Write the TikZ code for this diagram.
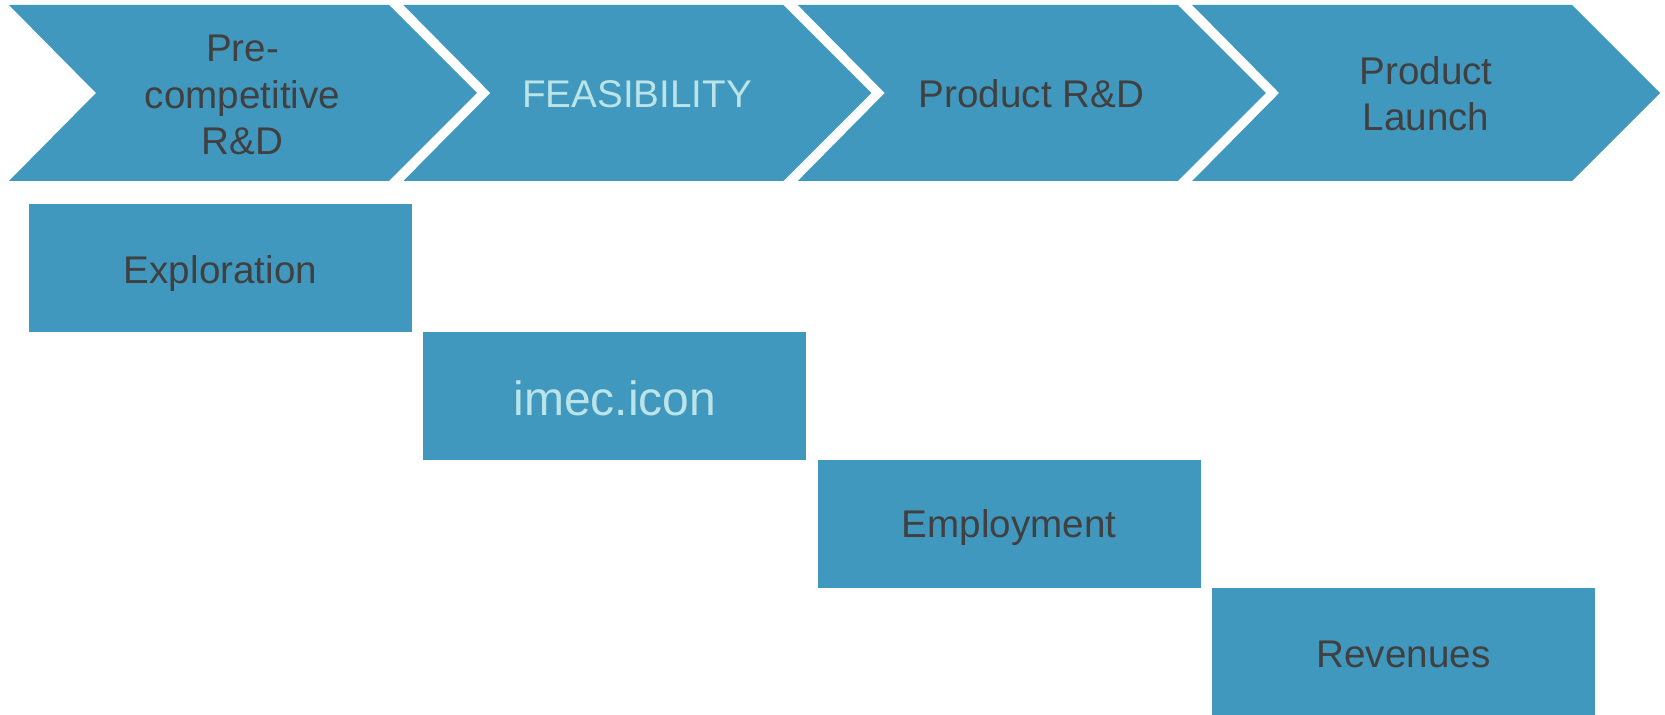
\documentclass[tikz,border=0pt]{standalone}
\usepackage{fontspec}
\setmainfont{Liberation Sans}
\definecolor{boxblue}{RGB}{64,152,191}
\definecolor{darktext}{RGB}{64,64,64}
\definecolor{lighttext}{RGB}{186,228,232}
\begin{document}
\begin{tikzpicture}[x=0.5pt,y=-0.5pt,
  chev/.style={fill=boxblue},
  chevtext/.style={align=center,text=darktext,font=\fontsize{19.3}{23.1}\selectfont,inner sep=0pt},
  boxrect/.style={fill=boxblue},
  boxtext/.style={text=darktext,font=\fontsize{19.3}{23.1}\selectfont,inner sep=0pt}]
\useasboundingbox (0,0) rectangle (1665,715);
% chevrons
\fill[chev] (9,5) -- (389,5) -- (477,93) -- (389,181) -- (9,181) -- (96,93) -- cycle;
\fill[chev] (403.4,5) -- (783.4,5) -- (871.4,93) -- (783.4,181) -- (403.4,181) -- (490.4,93) -- cycle;
\fill[chev] (797.8,5) -- (1177.8,5) -- (1265.8,93) -- (1177.8,181) -- (797.8,181) -- (884.8,93) -- cycle;
\fill[chev] (1192.2,5) -- (1572.2,5) -- (1660.2,93) -- (1572.2,181) -- (1192.2,181) -- (1279.2,93) -- cycle;
\node[chevtext] (c1) at (242.5,95) {Pre-\\competitive\\R\&D};
\node[chevtext,text=lighttext] (c2) at (637,94) {FEASIBILITY};
\node[chevtext] (c3) at (1031.5,94) {Product R\&D};
\node[chevtext] (c4) at (1426,94) {Product\\Launch};
% rectangles
\fill[boxrect] (29,204) rectangle (412,332);
\fill[boxrect] (423.3,332) rectangle (806.3,460);
\fill[boxrect] (817.6,460) rectangle (1200.6,588);
\fill[boxrect] (1212,588) rectangle (1595,716);
\node[boxtext] (r1) at (220.5,274) {Exploration};
\node[boxtext,text=lighttext,font=\fontsize{24}{28}\selectfont] (r2) at (614.8,398) {imec.icon};
\node[boxtext] (r3) at (1009.1,528) {Employment};
\node[boxtext] (r4) at (1403.5,654) {Revenues};
\end{tikzpicture}
\end{document}
